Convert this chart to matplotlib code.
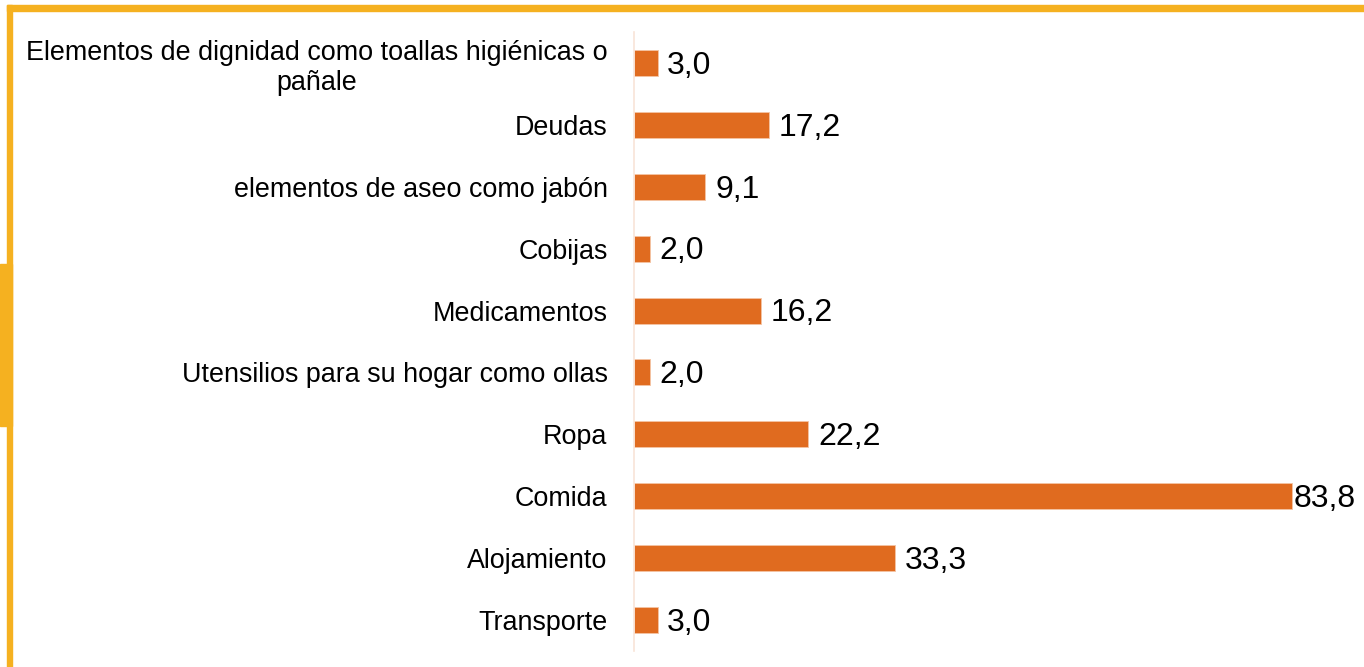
import matplotlib.pyplot as plt
from matplotlib.patches import Rectangle

plt.rcParams['font.family'] = ['Liberation Sans', 'DejaVu Sans']

categories = [
    "Elementos de dignidad como toallas higiénicas o\npañale",
    "Deudas",
    "elementos de aseo como jabón",
    "Cobijas",
    "Medicamentos",
    "Utensilios para su hogar como ollas",
    "Ropa",
    "Comida",
    "Alojamiento",
    "Transporte",
]
values = [3.0, 17.2, 9.1, 2.0, 16.2, 2.0, 22.2, 83.8, 33.3, 3.0]

W, H = 1364, 667
fig = plt.figure(figsize=(W / 100, H / 100), dpi=100)

# decorative frame (pixel coords -> figure fraction)
yellow = "#F5B120"
def px_rect(x0, y0, x1, y1):
    fig.patches.append(Rectangle((x0 / W, 1 - y1 / H), (x1 - x0) / W, (y1 - y0) / H,
                                 transform=fig.transFigure, color=yellow, zorder=0))
px_rect(7, 5, W, 11)
px_rect(7, 5, 12, H)
px_rect(0, 264, 12, 426)

ax = fig.add_axes([634 / W, 1 - 651 / H, (W - 634) / W, 619 / H])
y = list(range(len(categories)))
ax.barh(y, values, height=0.42, color="#E06B1F", edgecolor="#F4C4A4", linewidth=0.6)
ax.set_ylim(len(categories) - 0.5, -0.5)
ax.set_xlim(0, 93)
ax.set_yticks(y)
ax.set_yticklabels(categories, fontsize=19.4, multialignment="center")
ax.tick_params(axis="y", length=0, pad=19)
ax.set_xticks([])
for s in ["top", "right", "bottom"]:
    ax.spines[s].set_visible(False)
ax.spines["left"].set_color("#F8E4D8")
ax.spines["left"].set_linewidth(1.2)

vmax = max(values)
for yi, v in zip(y, values):
    off = 1 if v == vmax else 7
    ax.annotate(f"{v:.1f}".replace(".", ","), (v, yi), xytext=(off, -2),
                textcoords="offset points", va="center", ha="left", fontsize=23)

fig.savefig("out.png", dpi=100)
